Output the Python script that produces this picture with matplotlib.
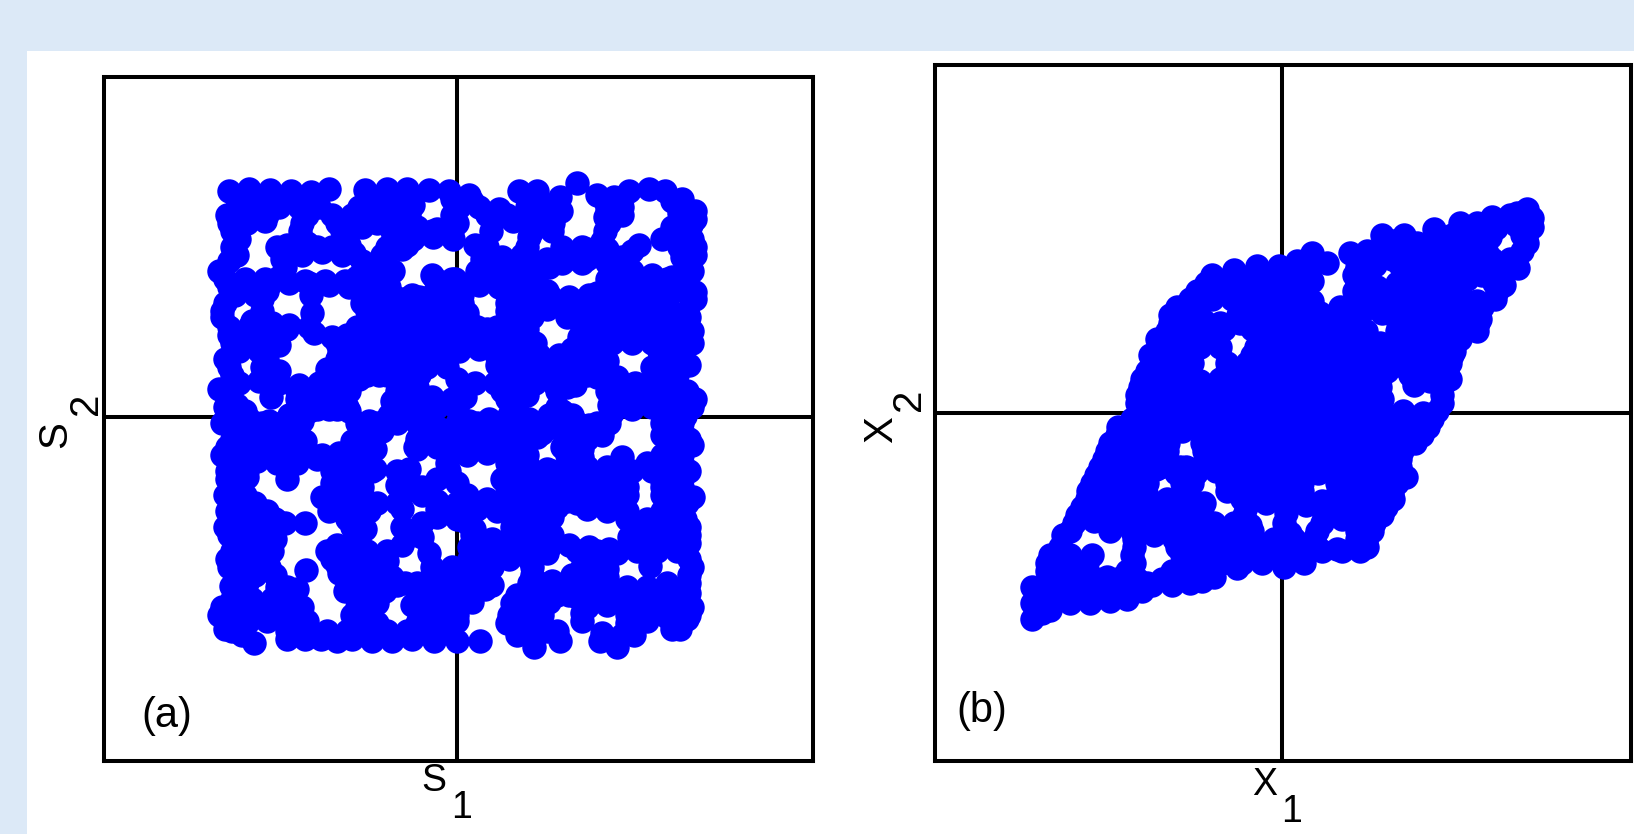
import matplotlib
matplotlib.use("Agg")
import matplotlib.pyplot as plt
from matplotlib.patches import Rectangle

plt.rcParams["font.family"] = ["Liberation Sans", "DejaVu Sans"]

# Source points, one line per row of the cloud
points_a = [
    (-228,226),(-208,228),(-187,227),(-166,226),(-146,225),(-128,228),(-92,227),(-70,228),(-50,228),(-28,227),(-8,226),(12,222),(62,226),(80,226),(103,220),(120,234),(140,222),(157,220),(172,226),(192,228),(208,226),(225,218),
    (-218,210),(-198,210),(-178,210),(-158,210),(-138,210),(-98,210),(-78,210),(-58,210),(-44,212),(2,210),(22,210),(42,208),(70,210),(90,210),(104,206),(150,208),(165,210),(222,204),(238,206),
    (-228,194),(-210,194),(-192,196),(-155,194),(-120,194),(-100,194),(-80,194),(-60,194),(-40,190),(-20,188),(0,194),(36,196),(56,196),(76,194),(96,194),(152,194),(215,190),(234,192),
    (-218,178),(-170,172),(-150,174),(-125,170),(-108,172),(-64,178),(-44,178),(-24,180),(-4,178),(18,172),(28,170),(72,180),(105,170),(125,170),(145,176),(182,172),(205,178),(222,176),(235,178),
    (-220,162),(-175,158),(-155,162),(-135,165),(-115,162),(-95,156),(-75,162),(-55,168),(25,158),(45,160),(65,162),(75,155),(105,154),(125,154),(145,160),(165,160),(225,160),(238,162),
    (-238,146),(-178,140),(-100,140),(-80,146),(-64,146),(-25,142),(-5,138),(20,146),(40,146),(60,146),(80,146),(92,150),(155,146),(175,146),(195,142),(215,140),(235,146),
    (-228,130),(-208,130),(-188,132),(-168,134),(-148,134),(-128,132),(-108,130),(-88,130),(-68,130),(-38,120),(-18,122),(2,125),(22,132),(42,130),(62,130),(82,130),(90,126),(118,116),(140,124),(160,130),(178,128),(200,128),(220,128),(238,125),
    (-232,114),(-195,118),(-190,126),(-95,114),(-75,114),(-55,118),(-35,112),(-15,108),(5,114),(50,114),(70,114),(90,114),(110,114),(130,114),(150,114),(170,114),(190,114),(210,110),(238,118),
    (-235,100),(-205,96),(-185,94),(-170,88),(-143,84),(-85,98),(-65,98),(-45,94),(-25,96),(-5,98),(15,92),(30,88),(50,98),(70,98),(75,100),(110,100),(130,98),(150,98),(170,98),(190,98),(210,96),(232,100),
    (-228,82),(-208,82),(-188,78),(-125,80),(-110,82),(-90,82),(-70,80),(-50,82),(-30,82),(-10,82),(10,78),(30,74),(50,82),(70,80),(122,80),(142,80),(160,78),(182,80),(202,82),(222,84),(235,86),
    (-218,66),(-198,66),(-178,72),(-118,66),(-98,66),(-78,66),(-58,66),(-38,66),(-18,66),(2,66),(22,68),(42,66),(62,66),(82,62),(102,62),(122,60),(142,52),(202,66),(222,68),
    (-228,50),(-195,50),(-178,46),(-130,48),(-110,50),(-90,50),(-70,50),(-50,50),(-30,50),(-10,50),(40,52),(60,50),(80,48),(100,48),(120,46),(140,40),(160,40),(195,50),(215,50),(232,52),
    (-218,34),(-198,36),(-178,34),(-158,32),(-138,34),(-118,34),(-98,38),(-78,42),(-60,36),(-40,30),(0,38),(18,34),(38,34),(58,34),(78,34),(98,32),(118,32),(158,28),(178,34),(198,34),(218,32),
    (-238,28),(-220,12),(-186,20),(-160,18),(-140,16),(-120,18),(-65,16),(-45,16),(-25,20),(-5,18),(8,20),(50,18),(70,22),(100,10),(115,2),(152,12),(172,16),(192,18),(212,20),(238,18),
    (-228,-2),(-208,-2),(-188,-4),(-168,2),(-148,6),(-128,8),(-108,6),(-88,-4),(-68,2),(-48,2),(-28,0),(12,-4),(32,-2),(52,2),(72,-2),(92,2),(112,-4),(132,-8),(152,-6),(205,4),(228,1),
    (-218,-14),(-198,-14),(-178,-14),(-158,-18),(-95,-14),(-75,-14),(-40,-22),(-28,-18),(5,-22),(25,-14),(45,-14),(65,-14),(85,-16),(105,-14),(125,-14),(145,-18),(205,-18),(225,-14),
    (-230,-30),(-210,-30),(-190,-30),(-170,-30),(-150,-34),(-118,-36),(-100,-30),(-82,-32),(-42,-30),(-20,-30),(0,-30),(20,-30),(40,-30),(60,-30),(105,-30),(125,-32),(165,-40),(215,-30),(235,-28),
    (-220,-46),(-200,-44),(-180,-46),(-160,-46),(-140,-42),(-120,-52),(-100,-46),(-82,-52),(-60,-54),(-48,-52),(-10,-46),(50,-46),(70,-46),(90,-52),(110,-52),(130,-50),(150,-50),(170,-54),(190,-46),(210,-46),(225,-46),
    (-230,-62),(-210,-60),(-125,-66),(-105,-62),(-60,-68),(-40,-70),(-20,-62),(0,-66),(45,-62),(65,-62),(85,-66),(105,-68),(125,-66),(145,-68),(165,-62),(205,-64),(225,-62),
    (-232,-78),(-212,-78),(-170,-62),(-135,-80),(-115,-78),(-95,-78),(-55,-78),(-35,-78),(10,-78),(30,-82),(50,-78),(70,-78),(90,-78),(110,-84),(130,-80),(150,-80),(170,-78),(205,-78),(225,-78),(236,-80),
    (-230,-94),(-210,-94),(-190,-94),(-128,-94),(-108,-94),(-88,-94),(-55,-92),(-20,-92),(0,-94),(20,-92),(40,-94),(60,-94),(80,-94),(100,-90),(130,-92),(150,-94),(170,-94),(205,-94),(225,-94),
    (-232,-110),(-212,-110),(-192,-110),(-172,-106),(-152,-106),(-105,-110),(-92,-112),(-55,-110),(-35,-106),(10,-106),(17,-112),(55,-110),(75,-110),(95,-118),(175,-108),(195,-110),(215,-110),(232,-110),
    (-222,-126),(-202,-126),(-182,-122),(-120,-128),(-100,-126),(-55,-128),(-35,-120),(12,-130),(32,-126),(52,-130),(72,-128),(92,-130),(112,-128),(132,-130),(152,-132),(172,-120),(192,-124),(212,-126),(232,-126),
    (-230,-142),(-210,-142),(-190,-142),(-125,-142),(-105,-142),(-85,-142),(-70,-144),(-28,-136),(12,-142),(32,-142),(52,-142),(72,-142),(90,-136),(130,-142),(150,-142),(193,-149),(232,-142),
    (-222,-158),(-202,-158),(-182,-158),(-151,-153),(-118,-156),(-105,-158),(-85,-158),(-65,-160),(-25,-158),(-5,-158),(15,-158),(35,-146),(75,-158),(95,-164),(115,-158),(135,-158),(150,-160),(232,-158),
    (-226,-169),(-180,-170),(-160,-172),(-112,-174),(-92,-174),(-72,-174),(-52,-166),(-32,-172),(-12,-174),(8,-174),(28,-172),(72,-172),(92,-176),(112,-178),(132,-174),(152,-174),(172,-182),(192,-176),(212,-172),(232,-176),
    (-235,-190),(-215,-188),(-195,-190),(-175,-190),(-155,-190),(-100,-190),(-80,-186),(-45,-188),(-25,-190),(-5,-190),(15,-185),(55,-186),(75,-190),(92,-185),(130,-190),(150,-188),(170,-190),(190,-190),(210,-192),(235,-190),
    (-230,-206),(-210,-206),(-190,-204),(-170,-204),(-150,-204),(-100,-206),(-80,-206),(-40,-206),(-20,-206),(0,-204),(50,-206),(70,-206),(90,-214),(125,-204),(170,-206),(190,-204),(210,-200),(230,-202),
    (-232,-212),(-215,-218),(-203,-226),(-170,-222),(-152,-222),(-136,-222),(-120,-224),(-105,-222),(-85,-224),(-65,-224),(-45,-222),(-23,-224),(0,-224),(23,-224),(77,-230),(103,-224),(143,-224),(160,-230),(177,-218),(223,-212),
    # second pass, between the rows above
    (-220,218),(-200,218),(-180,218),(-160,218),(-140,218),(-85,218),(-65,218),(-45,218),(-5,218),(15,216),(70,218),(148,216),(165,218),(215,216),
    (-230,202),(-210,202),(-190,202),(-150,202),(-125,202),(-105,202),(-85,202),(-65,202),(-48,202),(-5,202),(30,202),(50,202),(70,202),(90,202),(148,200),(165,202),(225,202),(238,198),
    (-225,186),(-157,186),(-115,186),(-95,190),(-110,184),(-65,186),(-45,186),(-25,186),(-5,186),(34,186),(75,186),(95,186),(148,186),(215,186),(232,186),
    (-225,170),(-180,170),(-160,170),(-140,170),(-120,170),(-103,164),(-70,170),(-50,172),(30,170),(70,170),(110,164),(130,168),(150,168),(175,166),(222,170),(238,170),
    (-228,156),(-172,150),(-92,150),(-72,154),(30,152),(50,152),(70,150),(90,158),(110,158),(130,158),(150,154),(170,154),(228,154),
    (-232,138),(-212,138),(-192,138),(-172,138),(-152,136),(-132,136),(-112,136),(-92,138),(-72,136),(-22,138),(-2,138),(18,138),(38,138),(58,138),(78,138),(150,138),(170,138),(190,138),(210,138),(230,138),
    (-222,122),(-202,122),(-146,122),(-85,122),(-65,122),(-45,122),(-25,122),(-5,122),(5,122),(52,122),(72,122),(92,122),(112,120),(132,122),(152,122),(172,122),(192,122),(212,122),(232,122),
    (-235,106),(-195,106),(-145,104),(-90,106),(-70,106),(-50,106),(-30,106),(-10,104),(10,104),(50,106),(70,106),(90,108),(110,106),(130,106),(150,106),(170,106),(190,106),(210,106),(230,106),
    (-228,90),(-208,90),(-188,90),(-168,92),(-148,90),(-100,90),(-80,90),(-60,90),(-40,90),(-20,90),(0,90),(20,90),(40,90),(60,90),(70,88),(125,90),(145,90),(165,90),(185,90),(205,90),(225,90),
    (-225,74),(-205,74),(-185,74),(-120,74),(-100,74),(-80,74),(-60,74),(-40,74),(-20,74),(0,74),(20,74),(40,74),(60,74),(78,74),(115,68),(135,68),(155,74),(175,74),(195,74),(215,74),(235,74),
    (-232,58),(-190,58),(-120,58),(-100,58),(-80,58),(-60,58),(-40,58),(-20,58),(40,60),(60,58),(80,58),(100,58),(120,58),(140,58),(150,56),(205,58),(225,58),
    (-225,42),(-190,42),(-130,42),(-110,42),(-90,42),(-70,42),(-50,42),(-38,42),(50,42),(70,42),(90,42),(110,42),(130,42),(150,42),(200,42),(220,42),
    (-228,26),(-160,26),(-140,26),(-120,26),(-108,26),(-60,26),(-40,26),(10,30),(45,26),(65,28),(100,26),(110,30),(150,26),(170,26),(190,26),(210,26),(230,26),
    (-232,10),(-212,6),(-160,8),(-140,8),(-120,8),(-110,10),(-60,10),(-40,10),(-20,10),(0,8),(60,6),(105,6),(155,4),(175,8),(195,10),(215,10),(235,10),
    (-235,-6),(-215,-6),(-195,-6),(-175,-6),(-155,-4),(-100,-6),(-80,-6),(-60,-6),(-40,-6),(-20,-10),(0,-6),(20,-6),(40,-6),(60,-6),(80,-6),(100,-6),(120,-6),(140,-6),(150,-6),(205,-6),(225,-6),
    (-225,-22),(-205,-22),(-185,-22),(-165,-22),(-152,-24),(-105,-24),(-85,-22),(-40,-32),(-20,-22),(0,-22),(20,-22),(40,-22),(60,-22),(80,-20),(110,-22),(130,-22),(215,-22),(232,-22),
    (-235,-38),(-215,-38),(-195,-38),(-175,-38),(-155,-38),(-135,-38),(-115,-38),(-90,-40),(10,-38),(30,-36),(50,-38),(70,-38),(110,-38),(125,-40),(205,-38),(225,-38),
    (-230,-54),(-210,-54),(-170,-52),(-125,-54),(-105,-54),(-85,-54),(-8,-54),(55,-54),(75,-54),(95,-54),(115,-54),(135,-56),(155,-54),(175,-54),(195,-54),(215,-54),(232,-54),
    (-225,-70),(-115,-70),(-95,-70),(-55,-68),(-35,-70),(50,-70),(70,-70),(90,-70),(110,-70),(130,-70),(150,-70),(170,-70),(205,-70),(225,-70),
    (-222,-86),(-202,-86),(-120,-86),(-100,-86),(-80,-86),(-60,-86),(-20,-84),(0,-86),(20,-86),(40,-86),(60,-86),(80,-86),(100,-84),(120,-86),(140,-86),(160,-86),(210,-86),(230,-86),
    (-222,-102),(-202,-102),(-182,-102),(-110,-102),(-20,-100),(0,-102),(60,-102),(80,-102),(95,-100),(170,-102),(190,-102),(210,-102),(228,-102),
    (-228,-118),(-208,-118),(-188,-118),(-100,-118),(-45,-118),(15,-118),(35,-122),(55,-118),(75,-118),(95,-124),(175,-118),(195,-118),(215,-118),(232,-118),
    (-225,-134),(-205,-134),(-185,-134),(-130,-134),(-110,-134),(-90,-134),(-70,-134),(15,-134),(35,-134),(55,-134),(75,-134),(120,-134),(140,-134),(160,-136),(180,-134),(200,-134),(220,-134),
    (-228,-150),(-208,-150),(-188,-150),(-120,-148),(-95,-150),(-75,-150),(-25,-150),(-5,-150),(15,-150),(35,-150),(75,-150),(125,-150),(145,-150),(150,-152),(235,-150),
    (-210,-166),(-170,-170),(-100,-166),(-80,-166),(-60,-168),(-40,-166),(-20,-166),(0,-166),(20,-166),(35,-168),(72,-166),(92,-166),(112,-166),(132,-166),(150,-168),(170,-170),(190,-170),(210,-166),(232,-166),
    (-225,-182),(-205,-182),(-185,-182),(-165,-182),(-100,-182),(-85,-178),(-40,-182),(-20,-182),(0,-182),(15,-178),(60,-178),(80,-182),(100,-178),(120,-180),(140,-182),(160,-182),(180,-182),(200,-182),(220,-182),
    (-238,-198),(-220,-198),(-200,-198),(-180,-198),(-160,-198),(-105,-198),(-88,-198),(-38,-198),(-20,-198),(0,-198),(52,-198),(72,-198),(85,-198),(125,-196),(170,-198),(190,-198),(210,-198),(232,-198),
    (-225,-214),(-170,-214),(-150,-214),(-130,-214),(-110,-214),(-90,-214),(-70,-214),(-50,-214),(-30,-214),(-10,-214),(60,-218),(80,-214),(100,-214),(145,-216),(165,-218),(215,-212),
]

# Mixed points, same layout
points_b = [
    (245,204),
    (210,196),(228,198),(248,192),
    (178,190),(195,190),(212,188),(234,188),(250,186),
    (100,178),(122,178),(152,184),(170,178),(190,178),(208,176),(244,176),
    (30,160),(68,160),(85,162),(105,162),(125,162),(145,162),(165,162),(185,162),(205,160),(240,162),
    (-48,143),(-25,147),(-3,147),(15,146),(30,148),(75,146),(93,148),(118,148),(135,146),(155,146),(175,146),(195,146),(215,146),(236,145),
    (-76,130),(-60,130),(-40,130),(-20,130),(0,130),(20,130),(30,132),(75,130),(95,126),(115,130),(135,130),(155,130),(175,130),(185,134),(212,130),(222,128),
    (-92,114),(-70,114),(-50,114),(-30,114),(-10,114),(10,114),(30,112),(75,114),(95,114),(115,114),(135,114),(155,114),(175,114),(195,112),(213,114),
    (-112,98),(-92,98),(-78,92),(-44,98),(-22,98),(-2,98),(18,98),(38,98),(58,98),(78,98),(100,100),(118,98),(138,98),(158,98),(178,98),(198,94),
    (-115,82),(-95,82),(-75,82),(-58,84),(-30,84),(-15,82),(5,82),(25,82),(45,82),(65,82),(84,82),(115,82),(135,82),(155,82),(175,82),(195,82),
    (-122,66),(-102,66),(-82,66),(-62,66),(-26,66),(-6,66),(14,66),(34,66),(54,66),(74,66),(94,68),(114,66),(134,66),(154,66),(172,62),
    (-130,50),(-110,50),(-90,50),(-55,50),(-35,50),(-15,50),(5,50),(25,50),(45,50),(65,50),(85,50),(105,50),(125,48),(145,50),(168,50),
    (-140,34),(-122,34),(-102,34),(-82,32),(-62,34),(-42,34),(-22,34),(-2,34),(18,34),(38,34),(58,34),(78,34),(98,34),(128,38),(148,32),(168,34),
    (-145,18),(-128,18),(-108,18),(-88,18),(-68,18),(-48,18),(-28,18),(-8,18),(12,18),(32,18),(52,18),(72,18),(92,18),(100,14),(132,28),(160,18),
    (-139,2),(-119,2),(-99,2),(-79,2),(-59,2),(-39,2),(-19,2),(1,2),(21,2),(41,2),(61,2),(81,2),(101,2),(121,2),(141,0),(155,2),
    (-164,-14),(-144,-14),(-124,-14),(-104,-12),(-84,-14),(-64,-14),(-44,-14),(-24,-14),(-4,-14),(16,-14),(36,-14),(56,-14),(76,-14),(96,-14),(116,-14),(136,-14),(146,-14),
    (-172,-30),(-152,-30),(-132,-30),(-114,-30),(-80,-30),(-60,-30),(-40,-30),(-20,-30),(0,-30),(20,-30),(40,-30),(60,-30),(80,-30),(100,-30),(120,-30),(133,-30),
    (-178,-46),(-158,-46),(-138,-46),(-118,-46),(-96,-54),(-76,-46),(-56,-46),(-36,-46),(-16,-46),(4,-46),(24,-46),(44,-46),(64,-46),(84,-46),(104,-46),(118,-46),
    (-186,-62),(-166,-62),(-146,-62),(-126,-56),(-106,-60),(-86,-60),(-66,-58),(-46,-62),(-30,-62),(-4,-62),(16,-62),(36,-60),(56,-62),(76,-62),(96,-62),(116,-62),(124,-64),
    (-194,-78),(-174,-78),(-154,-78),(-136,-80),(-100,-82),(-55,-78),(-35,-78),(-15,-78),(5,-78),(20,-78),(56,-78),(76,-78),(96,-78),(110,-80),
    (-200,-94),(-180,-94),(-160,-94),(-140,-94),(-120,-90),(-100,-94),(-80,-94),(-36,-94),(-16,-90),(4,-90),(24,-92),(44,-94),(64,-94),(84,-94),(104,-94),
    (-208,-110),(-188,-108),(-168,-110),(-148,-110),(-128,-110),(-108,-110),(-88,-110),(-68,-110),(-48,-110),(-32,-112),(2,-110),(40,-110),(60,-106),(80,-110),(92,-110),
    (-219,-122),(-172,-118),(-148,-126),(-128,-122),(-108,-126),(-88,-126),(-68,-126),(-48,-126),(-28,-126),(-8,-126),(12,-126),(32,-126),(75,-126),(84,-128),
    (-232,-142),(-212,-142),(-190,-142),(-150,-142),(-100,-142),(-80,-142),(-60,-142),(-40,-142),(-20,-142),(0,-142),(20,-142),(40,-138),(60,-138),(78,-138),
    (-235,-158),(-215,-158),(-195,-158),(-175,-164),(-155,-158),(-135,-170),(-110,-158),(-90,-158),(-68,-164),(-45,-155),(-20,-150),(2,-154),(22,-150),
    (-250,-174),(-230,-174),(-210,-174),(-190,-174),(-170,-174),(-150,-174),(-130,-172),(-110,-172),(-92,-170),
    (-250,-190),(-232,-190),(-212,-190),(-192,-190),(-172,-188),(-155,-186),
    (-250,-206),(-232,-197),
    # second pass, between the rows above
    (110,172),(135,170),(160,172),(180,170),(200,168),(214,185),(235,200),(240,178),(250,195),
    (45,150),(15,152),(88,154),(110,154),(130,154),(150,154),(170,154),(190,154),(210,154),(228,154),(245,170),
    (-70,138),(-50,138),(-30,138),(-10,138),(10,138),(72,138),(86,136),(122,138),(140,138),(160,138),(180,138),(200,138),(220,138),
    (-85,122),(-65,122),(-45,122),(-25,122),(-5,122),(15,122),(72,122),(90,122),(110,122),(130,122),(150,122),(170,122),(178,120),(215,122),
    (-105,106),(-85,106),(-42,106),(-22,106),(-2,106),(18,106),(38,100),(58,106),(78,106),(98,106),(118,106),(138,106),(158,106),(178,106),(200,106),
    (-112,90),(-100,90),(-82,90),(-62,90),(-42,90),(-22,90),(-2,90),(18,90),(38,90),(58,90),(76,90),(116,90),(136,90),(156,90),(176,90),(196,90),
    (-125,74),(-112,74),(-92,74),(-68,74),(-22,74),(-2,74),(18,74),(38,74),(58,74),(78,74),(98,70),(118,74),(138,74),(158,74),(178,74),
    (-132,58),(-112,58),(-92,58),(-30,58),(-10,58),(10,58),(30,58),(50,58),(70,58),(90,58),(110,58),(130,58),(150,58),(170,58),
    (-135,42),(-115,42),(-95,42),(-55,42),(-35,42),(-15,42),(5,42),(25,42),(45,42),(65,42),(85,42),(105,42),(125,44),(145,42),(165,42),
    (-142,26),(-122,26),(-102,26),(-82,26),(-62,26),(-42,26),(-22,26),(-2,26),(18,26),(38,26),(58,26),(78,26),(98,26),(160,26),
    (-145,10),(-125,10),(-105,10),(-85,10),(-65,10),(-45,10),(-25,10),(-5,10),(15,10),(35,10),(55,10),(75,10),(95,8),(160,10),
    (-150,-6),(-130,-6),(-110,-6),(-90,-6),(-70,-6),(-50,-6),(-30,-6),(-10,-6),(10,-6),(30,-6),(50,-6),(70,-6),(90,-6),(110,-6),(130,-6),(150,-6),
    (-165,-22),(-145,-22),(-125,-22),(-100,-18),(-70,-22),(-50,-22),(-30,-22),(-10,-22),(10,-22),(30,-22),(50,-22),(70,-22),(90,-22),(110,-22),(130,-22),(140,-22),
    (-175,-38),(-155,-38),(-135,-38),(-115,-38),(-78,-38),(-60,-38),(-40,-38),(-20,-38),(0,-38),(20,-38),(40,-38),(60,-38),(80,-38),(100,-38),(120,-38),
    (-182,-54),(-162,-54),(-142,-54),(-122,-54),(-102,-54),(-82,-54),(-62,-54),(-42,-54),(-22,-54),(-2,-54),(18,-54),(38,-54),(58,-54),(78,-54),(98,-54),(118,-54),
    (-190,-70),(-170,-70),(-150,-70),(-135,-70),(-100,-70),(-90,-70),(-55,-70),(-35,-70),(-15,-70),(5,-70),(20,-70),(55,-70),(75,-70),(95,-70),(115,-70),
    (-195,-86),(-175,-86),(-155,-86),(-135,-86),(-115,-86),(-95,-86),(-78,-90),(-40,-86),(-20,-86),(0,-86),(20,-86),(40,-88),(60,-86),(80,-86),(100,-86),(111,-86),
    (-205,-102),(-185,-102),(-165,-102),(-145,-102),(-125,-102),(-105,-102),(-85,-102),(-38,-102),(4,-100),(42,-102),(62,-102),(82,-102),(100,-102),
    (-212,-118),(-150,-118),(-130,-118),(-110,-118),(-90,-118),(-70,-118),(-50,-118),(-30,-118),(8,-120),(35,-118),(75,-118),(90,-118),
    (-222,-134),(-148,-134),(-105,-134),(-85,-134),(-65,-134),(-45,-134),(-25,-134),(-5,-134),(15,-134),(35,-134),(55,-136),(75,-134),(85,-134),
    (-235,-150),(-215,-150),(-195,-150),(-148,-150),(-100,-150),(-80,-150),(-60,-150),(-40,-150),(-20,-146),(0,-146),(20,-146),
    (-225,-166),(-205,-166),(-185,-166),(-165,-166),(-145,-166),(-120,-166),(-100,-166),(-80,-168),
    (-240,-182),(-220,-182),(-200,-182),(-180,-182),(-160,-180),(-140,-178),
    (-240,-200),
]

s1 = [p[0] for p in points_a]
s2 = [p[1] for p in points_a]
x1 = [p[0] for p in points_b]
x2 = [p[1] for p in points_b]

W, H = 1634, 834
fig = plt.figure(figsize=(W / 100, H / 100), dpi=100, facecolor="#dce9f7")

# white sheet behind both panels
fig.add_artist(Rectangle((27 / W, 0), 1 - 27 / W, 1 - 51 / H, transform=fig.transFigure,
                         facecolor="white", edgecolor="none", zorder=-1))


def make_panel(left, right, top, bottom, xlim, ylim, xs, ys):
    ax = fig.add_axes([left / W, 1 - bottom / H, (right - left) / W, (bottom - top) / H])
    ax.axhline(0, color="black", lw=2.9, zorder=1)
    ax.axvline(0, color="black", lw=2.9, zorder=1)
    ax.scatter(xs, ys, s=310, color="#0000ff", linewidths=0, zorder=2)
    ax.set_xlim(xlim)
    ax.set_ylim(ylim)
    ax.set_xticks([])
    ax.set_yticks([])
    for sp in ax.spines.values():
        sp.set_linewidth(2.9)
    return ax


make_panel(104, 813, 77, 761, (-352.5, 356.5), (-344, 340), s1, s2)
make_panel(935, 1631, 65, 761, (-347, 349), (-348, 348), x1, x2)


def label(x, y, txt, size, rotation=0):
    fig.text(x / W, 1 - y / H, txt, fontsize=size, rotation=rotation,
             ha="center", va="center", color="black")


label(434, 781, "S", 27)
label(462, 808, "1", 27)
label(1265, 785, "X", 27)
label(1292, 812, "1", 27)
label(55, 435, "S", 29, 90)
label(86, 404, "2", 29, 90)
label(881, 430, "X", 29, 90)
label(909, 400, "2", 29, 90)
label(167, 716, "(a)", 30)
label(982, 711, "(b)", 30)

fig.savefig("out.png", dpi=100, facecolor=fig.get_facecolor())
